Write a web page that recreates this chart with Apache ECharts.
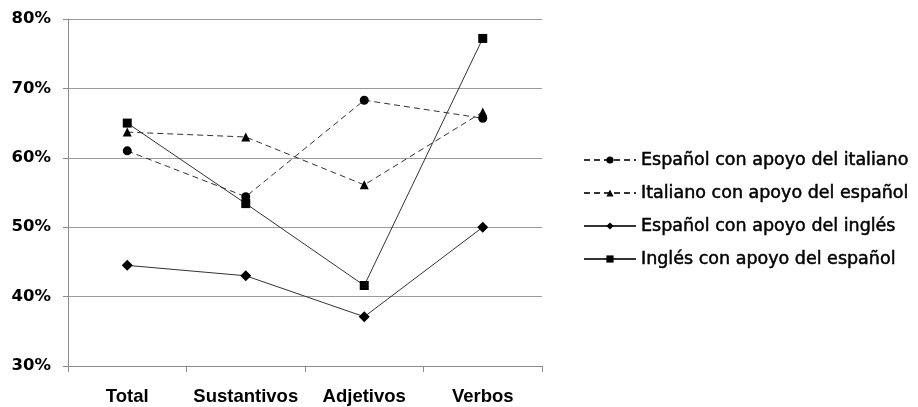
<!DOCTYPE html>
<html>
<head>
<meta charset="utf-8">
<script src="https://cdn.jsdelivr.net/npm/echarts@6/dist/echarts.min.js"></script>
<style>
  html, body { margin: 0; padding: 0; background: #fff; }
  #chart { width: 918px; height: 407px; }
</style>
</head>
<body>
<div id="chart"></div>
<script>
// Categories along the x axis
const categories = ['Total', 'Sustantivos', 'Adjetivos', 'Verbos'];

// Percentages per series
const espanolItaliano = [61.0, 54.4, 68.3, 65.7];
const italianoEspanol = [63.7, 63.0, 56.1, 66.6];
const espanolIngles = [44.5, 43.0, 37.1, 50.0];
const inglesEspanol = [65.0, 53.4, 41.6, 77.2];

// Series names shown in the legend
const seriesNames = [
  'Español con apoyo del italiano',
  'Italiano con apoyo del español',
  'Español con apoyo del inglés',
  'Inglés con apoyo del español'
];

// Y axis range (percent)
const yMin = 30;
const yMax = 80;
const yStep = 10;

const chart = echarts.init(document.getElementById('chart'), null, { renderer: 'canvas' });

function makeSeries(name, data, symbol, size, dashed) {
  return {
    name: name,
    type: 'line',
    data: data,
    symbol: symbol,
    symbolSize: size,
    showAllSymbol: true,
    animation: false,
    lineStyle: { color: '#333', width: 1, type: dashed ? [6, 4] : 'solid' },
    itemStyle: { color: '#000', borderWidth: 0 },
    emphasis: { disabled: true }
  };
}

chart.setOption({
  backgroundColor: '#fff',
  animation: false,
  grid: { left: 68, right: 376, top: 19, bottom: 41, containLabel: false },
  xAxis: {
    type: 'category',
    data: categories,
    boundaryGap: true,
    axisLine: { lineStyle: { color: '#8a8a8a', width: 1 } },
    axisTick: { show: true, length: 6, lineStyle: { color: '#8a8a8a' } },
    axisLabel: {
      interval: 0,
      margin: 21,
      color: '#000',
      fontFamily: 'Liberation Sans, Arial, sans-serif',
      fontWeight: 'bold',
      fontSize: 18.5
    }
  },
  yAxis: {
    type: 'value',
    min: yMin,
    max: yMax,
    interval: yStep,
    axisLine: { show: true, lineStyle: { color: '#8a8a8a', width: 1 } },
    axisTick: { show: true, length: 5, lineStyle: { color: '#8a8a8a' } },
    splitLine: { show: true, lineStyle: { color: '#9a9a9a', width: 1 } },
    axisLabel: {
      margin: 17,
      color: '#000',
      fontFamily: 'DejaVu Sans, sans-serif',
      fontWeight: 'bold',
      fontSize: 16.5,
      formatter: v => v + '%'
    }
  },
  legend: {
    orient: 'vertical',
    left: 578,
    top: 145,
    padding: 5,
    itemWidth: 52,
    itemHeight: 9,
    itemGap: 13,
    textStyle: {
      color: '#000',
      fontFamily: 'DejaVu Sans, sans-serif',
      fontSize: 17.5,
      lineHeight: 20,
      textBorderColor: '#000',
      textBorderWidth: 0.5
    },
    data: seriesNames
  },
  series: [
    makeSeries(seriesNames[0], espanolItaliano, 'circle', 9, true),
    makeSeries(seriesNames[1], italianoEspanol, 'triangle', 9, true),
    makeSeries(seriesNames[2], espanolIngles, 'diamond', 11, false),
    makeSeries(seriesNames[3], inglesEspanol, 'rect', 9, false)
  ]
});
</script>
</body>
</html>
